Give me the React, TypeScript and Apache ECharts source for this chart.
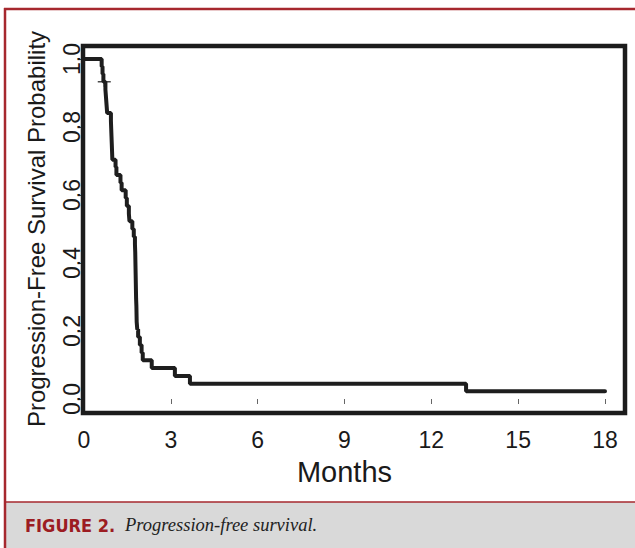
import React, { useEffect, useRef } from "react";
import * as echarts from "echarts";

// Kaplan–Meier step points (months, survival probability)
const months = [
  0, 0.61, 0.64, 0.67, 0.74, 0.76, 0.78, 0.8, 0.93, 0.94, 0.95, 0.96, 0.97, 0.98,
  1.09, 1.12, 1.26, 1.3, 1.44, 1.48, 1.55, 1.57, 1.67, 1.72, 1.76, 1.77, 1.775,
  1.78, 1.785, 1.79, 1.795, 1.8, 1.81, 1.815, 1.82, 1.84, 1.87, 1.93, 1.99, 2.03,
  2.34, 3.14, 3.66, 13.2, 18.0,
];
const survival = [
  1, 0.978, 0.956, 0.933, 0.91, 0.887, 0.864, 0.841, 0.818, 0.795, 0.772, 0.75,
  0.727, 0.704, 0.682, 0.659, 0.636, 0.614, 0.591, 0.568, 0.545, 0.523, 0.5,
  0.477, 0.455, 0.432, 0.409, 0.386, 0.364, 0.341, 0.318, 0.295, 0.273, 0.25,
  0.227, 0.205, 0.182, 0.159, 0.136, 0.114, 0.091, 0.068, 0.045, 0.023, 0.023,
];
// censored observations
const censorMonths = [0.7];
const censorSurvival = [0.933];

const xTicks = [0, 3, 6, 9, 12, 15, 18];
const yTicks = [0, 0.2, 0.4, 0.6, 0.8, 1.0];

const xTitle = "Months";
const yTitle = "Progression-Free Survival Probability";
const captionLabel = "FIGURE 2.";
const captionText = "Progression-free survival.";

const FONT = '"Liberation Sans", Arial, Helvetica, sans-serif';

export default function App() {
  const ref = useRef<HTMLDivElement>(null);

  useEffect(() => {
    if (!ref.current) return;
    const chart = echarts.init(ref.current, null, { renderer: "svg" });
    const red = "#a6282e";
    chart.setOption({
      animation: false,
      backgroundColor: "#ffffff",
      grid: { left: 84, top: 59, width: 521, height: 340, containLabel: false },
      xAxis: {
        type: "value",
        min: xTicks[0],
        max: xTicks[xTicks.length - 1],
        interval: 3,
        offset: 14,
        name: xTitle,
        nameLocation: "middle",
        nameGap: 44,
        nameTextStyle: { fontSize: 29, color: "#1a1a1a", fontFamily: FONT },
        axisLine: { show: false },
        axisTick: { show: true, length: 5, lineStyle: { color: "#666", width: 1 } },
        axisLabel: { fontSize: 23, color: "#1a1a1a", fontFamily: FONT, margin: 15 },
        splitLine: { show: false },
      },
      yAxis: {
        type: "value",
        min: yTicks[0],
        max: yTicks[yTicks.length - 1],
        interval: 0.2,
        name: yTitle,
        nameLocation: "middle",
        nameGap: 36,
        nameTextStyle: { fontSize: 24, color: "#1a1a1a", fontFamily: FONT },
        axisLine: { show: false },
        axisTick: { show: true, length: 5, lineStyle: { color: "#444", width: 1 } },
        axisLabel: {
          rotate: 90,
          fontSize: 23,
          color: "#1a1a1a",
          fontFamily: FONT,
          margin: 1,
          formatter: (v: number) => v.toFixed(1),
        },
        splitLine: { show: false },
      },
      series: [
        {
          type: "line",
          step: "end",
          showSymbol: false,
          symbol: "none",
          data: months.map((m, i) => [m, survival[i]]),
          lineStyle: { color: "#1e1e1e", width: 4, cap: "round" },
          z: 3,
        },
        {
          type: "scatter",
          data: censorMonths.map((m, i) => [m, censorSurvival[i]]),
          symbol: "path://M0,4.5H14V6H0Z M6.25,0H7.75V10.5H6.25Z",
          symbolSize: [13, 10],
          itemStyle: { color: "#1e1e1e" },
          z: 4,
        },
      ],
      graphic: [
        {
          type: "rect",
          shape: { x: 5, y: 502, width: 630, height: 46 },
          style: { fill: "#d9d9d9" },
          z: 1,
        },
        {
          type: "line",
          shape: { x1: 5, y1: 502, x2: 635, y2: 502 },
          style: { stroke: red, lineWidth: 1.5 },
          z: 2,
        },
        {
          type: "line",
          shape: { x1: 4, y1: 9, x2: 635, y2: 9 },
          style: { stroke: red, lineWidth: 2.5 },
          z: 2,
        },
        {
          type: "line",
          shape: { x1: 5, y1: 8, x2: 5, y2: 548 },
          style: { stroke: red, lineWidth: 2.5 },
          z: 2,
        },
        {
          type: "rect",
          shape: { x: 83, y: 46, width: 542, height: 367 },
          style: { fill: "none", stroke: "#1c1c1c", lineWidth: 4.5 },
          z: 5,
        },
        {
          type: "text",
          x: 25,
          y: 525,
          style: {
            text: captionLabel,
            fill: "#9c1c22",
            font: 'bold 18px "DejaVu Sans Condensed", "Liberation Sans Narrow", sans-serif',
            verticalAlign: "middle",
          },
          z: 3,
        },
        {
          type: "text",
          x: 125,
          y: 525,
          style: {
            text: captionText,
            fill: "#222222",
            font: 'italic 18.5px "Liberation Serif", "DejaVu Serif", serif',
            verticalAlign: "middle",
          },
          z: 3,
        },
      ],
    });
    return () => chart.dispose();
  }, []);

  return (
    <div
      ref={ref}
      style={{ position: "absolute", left: 0, top: 0, width: 635, height: 548 }}
    />
  );
}
